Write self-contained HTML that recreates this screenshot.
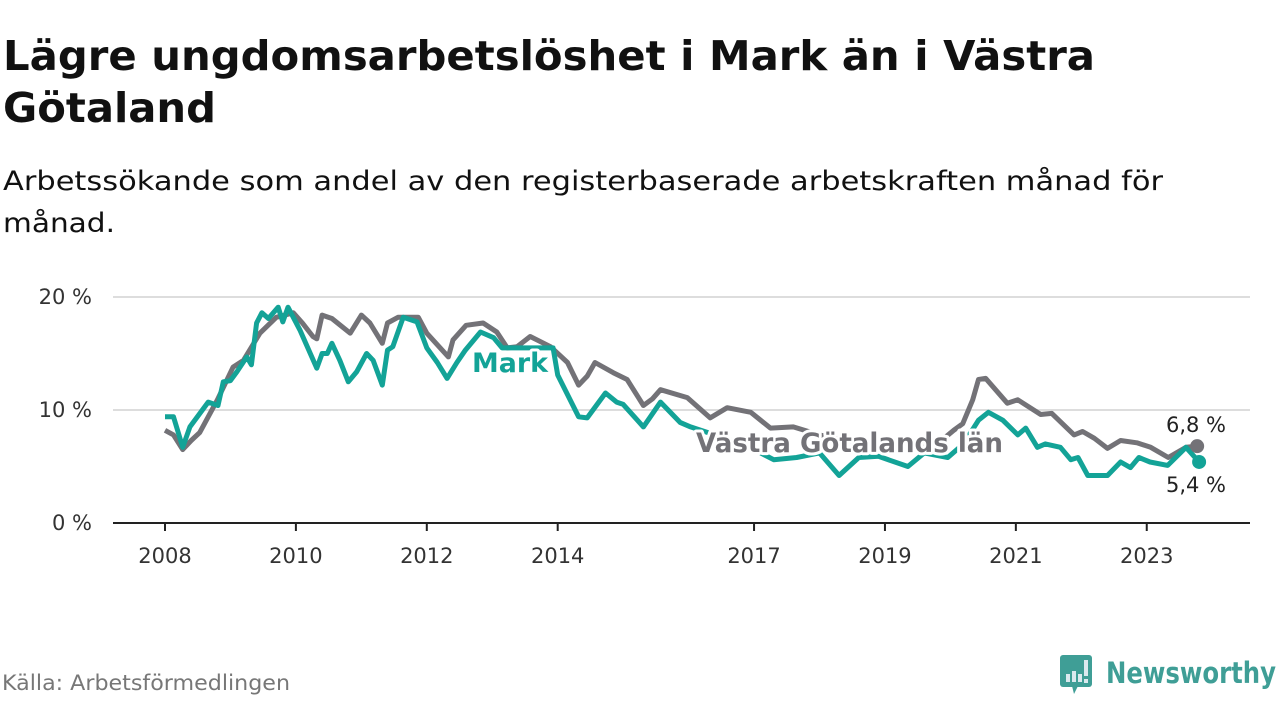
<!DOCTYPE html>
<html><head><meta charset="utf-8"><style>
html,body{margin:0;padding:0;background:#fff;}
svg{display:block;font-family:"DejaVu Sans","Liberation Sans",sans-serif;}
</style></head><body>
<svg id="chart" width="1280" height="720" viewBox="0 0 1280 720">
<text x="3" y="70" font-size="41" font-weight="bold" fill="#111" textLength="1092" lengthAdjust="spacingAndGlyphs">Lägre ungdomsarbetslöshet i Mark än i Västra</text>
<text x="3" y="122" font-size="41" font-weight="bold" fill="#111" textLength="213" lengthAdjust="spacingAndGlyphs">Götaland</text>
<text x="3" y="190" font-size="27" fill="#111" textLength="1160" lengthAdjust="spacingAndGlyphs">Arbetssökande som andel av den registerbaserade arbetskraften månad för</text>
<text x="3" y="232" font-size="27" fill="#111" textLength="112" lengthAdjust="spacingAndGlyphs">månad.</text>
<g id="grid"></g>
<g id="xaxis"></g>
<g id="series"></g>
<g id="labels"></g>
<text x="2" y="690" font-size="21" fill="#777" textLength="288" lengthAdjust="spacingAndGlyphs">Källa: Arbetsförmedlingen</text>
<g>
<rect x="1060" y="655" width="32" height="32" rx="3" fill="#3f9e96"/>
<polygon points="1072,686 1078,686 1074,694" fill="#3f9e96"/>
<rect x="1066" y="674" width="4" height="8" fill="#dbe9ee"/>
<rect x="1072" y="671" width="4" height="11" fill="#dbe9ee"/>
<rect x="1078" y="674" width="4" height="8" fill="#dbe9ee"/>
<rect x="1084" y="660" width="4" height="16" fill="#dbe9ee"/>
<rect x="1084" y="679" width="4" height="4" fill="#dbe9ee"/>
<text x="1106" y="683" font-size="29" font-weight="bold" fill="#3f9e96" textLength="170" lengthAdjust="spacingAndGlyphs">Newsworthy</text>
</g>
</svg>
<script>
const yTicks=[0,10,20];
const yTickLabels=["0 %","10 %","20 %"];
const xTicks=[2008,2010,2012,2014,2017,2019,2021,2023];
const vgYears=[2008.0,2008.13,2008.27,2008.4,2008.53,2008.8,2009.04,2009.2,2009.45,2009.7,2009.96,2010.1,2010.26,2010.32,2010.4,2010.55,2010.83,2011.0,2011.13,2011.32,2011.4,2011.56,2011.87,2012.0,2012.33,2012.4,2012.6,2012.86,2013.07,2013.23,2013.38,2013.58,2013.89,2014.15,2014.32,2014.45,2014.57,2014.85,2015.06,2015.31,2015.45,2015.57,2015.98,2016.33,2016.59,2016.95,2017.25,2017.6,2018.0,2018.5,2019.0,2019.5,2019.8,2020.05,2020.19,2020.34,2020.43,2020.54,2020.87,2021.03,2021.38,2021.55,2021.89,2022.02,2022.2,2022.4,2022.6,2022.85,2023.06,2023.33,2023.6,2023.77];
const vgValues=[8.2,7.8,6.5,7.3,8.0,10.9,13.8,14.4,16.8,18.2,18.6,17.7,16.5,16.3,18.4,18.1,16.8,18.4,17.7,15.9,17.7,18.2,18.2,16.8,14.7,16.2,17.5,17.7,16.9,15.5,15.6,16.5,15.6,14.2,12.2,13.0,14.2,13.3,12.7,10.4,11.0,11.8,11.1,9.3,10.2,9.8,8.4,8.5,7.8,7.2,6.9,6.6,7.0,8.2,8.8,10.9,12.7,12.8,10.6,10.9,9.6,9.7,7.8,8.1,7.5,6.6,7.3,7.1,6.7,5.8,6.7,6.8];
const markYears=[2008.0,2008.13,2008.27,2008.38,2008.66,2008.81,2008.89,2009.0,2009.1,2009.25,2009.32,2009.4,2009.48,2009.58,2009.73,2009.8,2009.88,2010.06,2010.32,2010.4,2010.48,2010.55,2010.67,2010.8,2010.93,2011.08,2011.18,2011.32,2011.4,2011.48,2011.64,2011.85,2012.0,2012.16,2012.31,2012.46,2012.59,2012.82,2013.02,2013.15,2013.5,2013.93,2014.0,2014.32,2014.45,2014.73,2014.9,2015.0,2015.31,2015.57,2015.87,2016.03,2016.4,2016.8,2017.1,2017.3,2017.65,2018.0,2018.3,2018.6,2018.9,2019.35,2019.6,2019.96,2020.2,2020.43,2020.58,2020.8,2021.03,2021.15,2021.33,2021.45,2021.68,2021.84,2021.95,2022.1,2022.4,2022.6,2022.75,2022.88,2023.05,2023.32,2023.6,2023.8];
const markValues=[9.4,9.4,6.7,8.5,10.7,10.4,12.5,12.6,13.4,14.7,14.0,17.7,18.6,18.1,19.1,17.8,19.1,17.1,13.7,15.0,15.0,15.9,14.4,12.5,13.4,15.0,14.4,12.2,15.3,15.6,18.2,17.8,15.5,14.2,12.8,14.2,15.3,16.9,16.4,15.5,15.5,15.5,13.1,9.4,9.3,11.5,10.7,10.5,8.5,10.7,8.9,8.5,7.8,7.0,6.2,5.6,5.8,6.2,4.2,5.8,5.9,5.0,6.2,5.8,7.0,9.1,9.8,9.1,7.8,8.4,6.7,7.0,6.7,5.6,5.8,4.2,4.2,5.4,4.9,5.8,5.4,5.1,6.7,5.4];

const NS="http://www.w3.org/2000/svg";
const X0=113,X1=1250;
function xs(y){return 165+(y-2008)*65.45;}
function ys(v){return 523-v*11.3;}
function mk(tag,attrs,parent){const e=document.createElementNS(NS,tag);for(const k in attrs)e.setAttribute(k,attrs[k]);parent.appendChild(e);return e;}
const grid=document.getElementById('grid'),xa=document.getElementById('xaxis'),ser=document.getElementById('series'),lab=document.getElementById('labels');
yTicks.forEach((t,i)=>{
  if(t>0){const l=mk('line',{x1:X0,x2:X1,y1:ys(t),y2:ys(t),stroke:'#ddd','stroke-width':2},grid);
  
  }
  const tx=mk('text',{x:92,y:ys(t)+7,'text-anchor':'end','font-size':21,fill:'#333'},grid);
  
  
  tx.textContent=yTickLabels[i];
});
const base=mk('line',{x1:X0,x2:X1,y1:ys(0),y2:ys(0),stroke:'#222','stroke-width':2},xa);


xTicks.forEach(t=>{
  const l=mk('line',{x1:xs(t),x2:xs(t),y1:ys(0),y2:ys(0)+8,stroke:'#222','stroke-width':2},xa);
  
  
  const tx=mk('text',{x:xs(t),y:563,'text-anchor':'middle','font-size':21,fill:'#333'},xa);
  
  
  tx.textContent=t;
});
function path(yrs,vals){return yrs.map((y,i)=>(i?'L':'M')+xs(y).toFixed(1)+','+ys(vals[i]).toFixed(1)).join(' ');}
const pv=mk('path',{d:path(vgYears,vgValues),fill:'none',stroke:'#737277','stroke-width':5,'stroke-linejoin':'round'},ser);


const pm=mk('path',{d:path(markYears,markValues),fill:'none',stroke:'#13a397','stroke-width':5,'stroke-linejoin':'round'},ser);


const lv=vgValues.length-1,lm=markValues.length-1;
const dv=mk('circle',{cx:xs(vgYears[lv]),cy:ys(vgValues[lv]),r:7,fill:'#737277'},ser);


const dm=mk('circle',{cx:xs(markYears[lm]),cy:ys(markValues[lm]),r:7,fill:'#13a397'},ser);


function label(txt,x,y,col,w,anchor,size,name,len){
  const t=mk('text',{x:x,y:y,fill:col,'font-size':size,'font-weight':w,'text-anchor':anchor,stroke:'#fff','stroke-width':6,'paint-order':'stroke','stroke-linejoin':'round'},lab);
  if(len){t.setAttribute('textLength',len);t.setAttribute('lengthAdjust','spacingAndGlyphs');}
  
  
  t.textContent=txt;return t;
}
label('Mark',472,372,'#13a397','bold','start',27,'label-mark',76);
label('Västra Götalands län',696,452,'#737277','bold','start',27,'label-vastra-gotaland',307);
label('6,8 %',1196,432,'#222','normal','middle',21,'value-label-vg');
label('5,4 %',1196,492,'#222','normal','middle',21,'value-label-mark');
</script>
</body></html>
